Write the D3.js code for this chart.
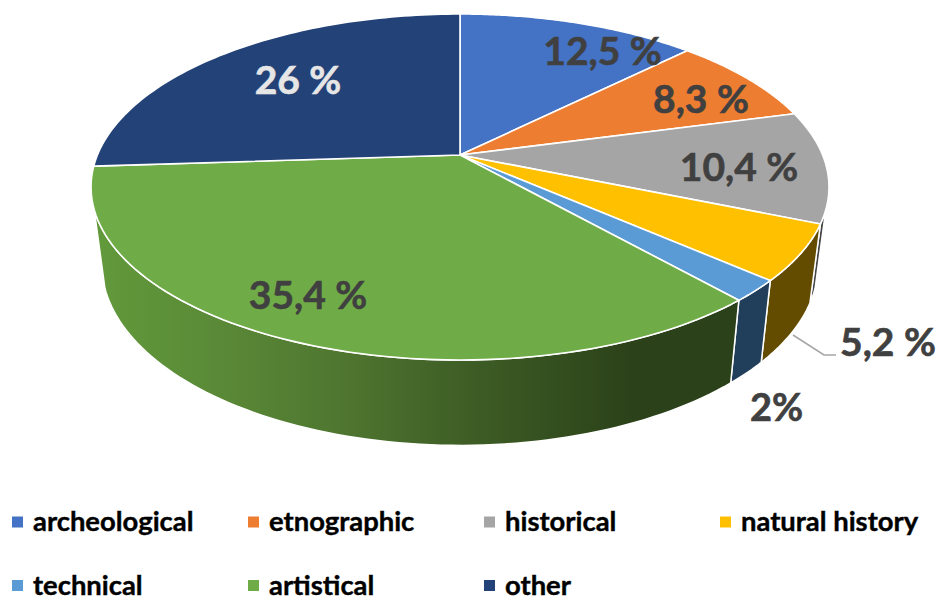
<!DOCTYPE html>
<html><head><meta charset="utf-8">
<style>html,body{margin:0;padding:0;background:#fff;overflow:hidden}svg{display:block}text{font-family:Lato,"Open Sans",sans-serif;font-weight:700}</style>
<script src="https://cdn.jsdelivr.net/npm/d3@7/dist/d3.min.js"></script>
</head><body><svg id="c" width="938" height="596"></svg>
<script>
const categories = ["archeological","etnographic","historical","natural history","technical","artistical","other"];
const values = [12.5,8.3,10.4,5.2,2,35.4,26];
const labels = ["12,5 %","8,3 %","10,4 %","5,2 %","2%","35,4 %","26 %"];
const topColors = ["#4472c4","#ed7d31","#a5a5a5","#ffc000","#5b9bd5","#6fac47","#234277"];
const sideColors = [null,null,"#444444","#634c00","#213f5a","url(#greenSide)",null];

const W=938,H=596, cx=460, k=0.185;
const rimTop={A:362.6,c:155,a:138.4}, rimBottom={A:352,c:231,a:132};
const svg=d3.select("#c");
function project(angle,rim,r=1){
  const u=r*Math.sin(angle), v=r*Math.cos(angle), w=1+k*v;
  return [cx+rim.A*u/w,(rim.c-rim.a*v)/w];
}
const arcs=d3.pie().sort(null).value(d=>d)(values);
const line=d3.line();
const samples=(a,b)=>d3.range(0,81).map(i=>a+(b-a)*i/80);
const sideFrom=108*Math.PI/180, sideTo=252*Math.PI/180;

const defs=svg.append("defs");
const g=defs.append("linearGradient").attr("id","greenSide").attr("gradientUnits","userSpaceOnUse")
  .attr("x1",93).attr("x2",731).attr("y1",0).attr("y2",0);
[[0,"#629a3b"],[0.19,"#5a8a37"],[0.39,"#4f7630"],[0.575,"#3f5f26"],[0.85,"#2b4119"],[1,"#2b4119"]].forEach(s=>g.append("stop").attr("offset",s[0]).attr("stop-color",s[1]));

svg.append("g").selectAll("path").data(arcs.filter((d,i)=>sideColors[i])).join("path")
  .attr("d",d=>{
    const a=Math.max(d.startAngle,sideFrom), b=Math.min(d.endAngle,sideTo);
    const pts=samples(a,b);
    return line(pts.map(t=>project(t,rimTop)).concat(pts.slice().reverse().map(t=>project(t,rimBottom))))+"Z";
  })
  .attr("fill",d=>sideColors[d.index]).attr("stroke","#fff").attr("stroke-width",1.5).attr("stroke-linejoin","round");

svg.append("g").selectAll("path").data(arcs).join("path")
  .attr("d",d=>line([project(0,rimTop,0)].concat(samples(d.startAngle,d.endAngle).map(t=>project(t,rimTop))))+"Z")
  .attr("fill",d=>topColors[d.index]).attr("stroke","#fff").attr("stroke-width",1.6).attr("stroke-linejoin","round");

svg.append("path").attr("d",line([[793,335],[824,355],[836,355]])).attr("fill","none").attr("stroke","#a6a6a6").attr("stroke-width",1.5);

const labelSpots=[[602.5,65],[701,113],[739,181],[888,356],[776.5,421],[308,309],[298,94]];
svg.append("g").selectAll("text").data(labels).join("text")
  .attr("x",(d,i)=>labelSpots[i][0]).attr("y",(d,i)=>labelSpots[i][1])
  .attr("text-anchor","middle").attr("font-size",(d,i)=>i===4?38:39)
  .attr("stroke",(d,i)=>i===6?"#e7e6e6":"#404040").attr("stroke-width",0.6)
  .attr("fill",(d,i)=>i===6?"#e7e6e6":"#404040").text(d=>d);

const legendX=d3.scalePoint().domain([0,1,2,3]).range([12,720]);
const legendY=d3.scalePoint().domain([0,1]).range([522,585.5]);
const lg=svg.append("g").selectAll("g").data(categories).join("g")
  .attr("transform",(d,i)=>`translate(${legendX(i%4)},${legendY(Math.floor(i/4))})`);
lg.append("rect").attr("y",-5.5).attr("width",11).attr("height",11).attr("fill",(d,i)=>topColors[i]);
lg.append("text").attr("x",21).attr("y",9).attr("font-size",27.4).attr("fill","#000").attr("stroke","#000").attr("stroke-width",0.4).text(d=>d);
</script></body></html>
